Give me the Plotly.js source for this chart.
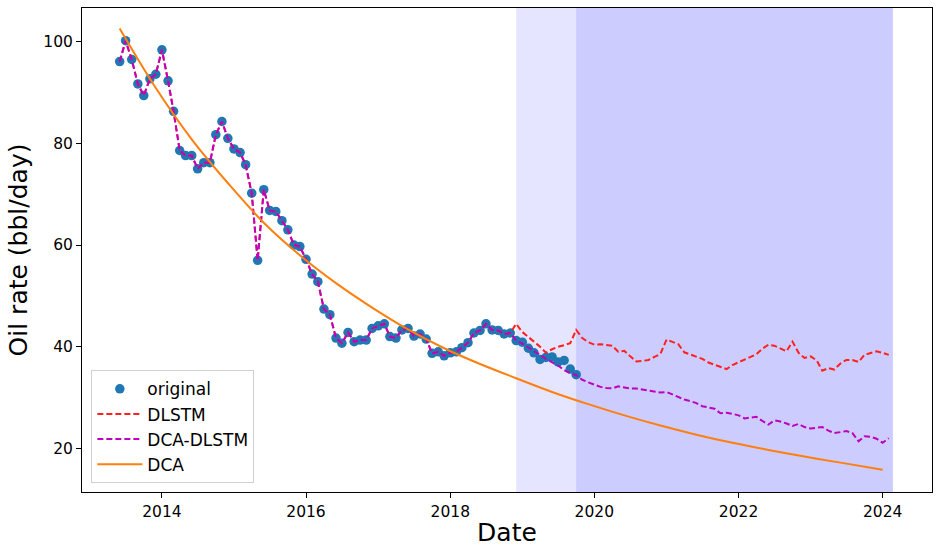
<!DOCTYPE html>
<html><head><meta charset="utf-8">
<script src="https://cdn.plot.ly/plotly-3.0.1.min.js"></script>
<style>html,body{margin:0;padding:0;background:#fff}#chart{width:940px;height:547px}</style>
</head><body><div id="chart"></div>
<script>
// monthly series start: June 2013
const startYear = 2013, startMonth = 6;

// observed oil rate (bbl/day), Jun 2013 .. Oct 2019
const original = [
  96.1, 100.2, 96.5, 91.7, 89.4, 92.7, 93.6,
  98.4, 92.3, 86.3, 78.6, 77.6, 77.6, 75.0, 76.2, 76.2, 81.7, 84.3, 81.0,
  78.9, 78.2, 75.8, 70.2, 57.0, 70.9, 66.8, 66.6, 64.8, 63.0, 60.0, 59.7,
  57.2, 54.3, 52.8, 47.4, 46.3, 41.7, 40.7, 42.8, 41.0, 41.3, 41.3, 43.6,
  44.1, 44.5, 42.0, 41.7, 43.3, 43.6, 42.1, 42.5, 41.5, 38.7, 39.0, 38.2,
  38.8, 39.0, 39.8, 40.8, 42.7, 43.2, 44.5, 43.3, 43.2, 42.5, 42.7, 41.2,
  40.9, 39.7, 38.8, 37.5, 37.9, 38.0, 37.0, 37.3, 35.6, 34.5
];

// forecasts start Dec 2018 (index 66 of the monthly sequence) and run to Feb 2024
const forecastStartIndex = 66;
const dlstmForecast = [
  44.5, 42.9, 41.8, 41.0, 40.0, 38.8, 39.5, 40.0, 40.3, 40.7,
  43.3, 41.7, 40.9,
  40.4, 40.5, 40.4, 40.2, 39.0, 39.2, 38.1, 37.1, 37.2, 37.4, 38.0, 38.6,
  41.4, 41.0, 40.5, 38.9, 38.5, 38.1, 37.6, 36.9, 36.5, 36.1, 35.6, 36.4,
  36.9, 37.5, 38.0, 38.5, 39.6, 40.4, 40.2, 39.6, 39.1, 41.0, 38.8, 37.8,
  38.1, 37.3, 35.3, 35.8, 35.5, 36.7, 37.4, 37.4, 37.0, 38.4, 38.7, 39.1,
  38.8, 38.4
];
const dcaDlstmForecast = [
  41.2, 40.6, 39.9, 39.2, 38.4, 37.6, 37.0, 36.3, 35.4, 34.8,
  34.4, 33.5, 33.0,
  32.6, 32.1, 31.9, 31.8, 32.2, 32.0, 31.8, 31.8, 31.6, 31.3, 31.1, 31.0,
  31.1, 30.6, 30.1, 29.6, 29.3, 28.9, 28.3, 28.1, 27.8, 26.9, 27.0, 26.8,
  26.5, 25.9, 26.1, 26.2, 25.4, 24.7, 25.5, 25.3, 24.9, 24.4, 24.8, 24.2,
  23.9, 24.0, 24.2, 23.5, 23.0, 23.2, 23.4, 23.0, 21.4, 22.4, 22.3, 21.9,
  21.1, 22.0
];

// decline-curve (DCA) values
const dcaDates = ['2013-06-01','2013-12-01','2014-06-01','2014-12-01','2015-06-01','2015-12-01',
  '2016-06-01','2016-12-01','2017-06-01','2017-12-01','2018-06-01','2018-12-01','2019-06-01',
  '2019-12-01','2020-06-01','2020-12-01','2021-06-01','2021-12-01','2022-06-01','2022-12-01',
  '2023-06-01','2024-01-01'];
const dcaValues = [102.6, 90.9, 80.8, 72.2, 64.4, 58.0, 52.5, 47.7, 43.4, 39.7, 36.6, 33.8,
  31.1, 28.7, 26.5, 24.5, 22.7, 21.1, 19.7, 18.4, 17.2, 15.8];

// shaded periods
const testSpan = ['2018-12-01', '2019-10-01'];
const forecastSpan = ['2019-10-01', '2024-02-22'];

const xTickStart = '2014-01-01';

function monthDate(i) {
  const m = startMonth - 1 + i;
  const y = startYear + Math.floor(m / 12);
  const mm = (m % 12) + 1;
  return y + '-' + String(mm).padStart(2, '0') + '-01';
}

const dlstm = original.slice(0, forecastStartIndex).concat(dlstmForecast);
const dcaDlstm = original.slice(0, forecastStartIndex).concat(dcaDlstmForecast);
const origDates = original.map((_, i) => monthDate(i));
const modelDates = dlstm.map((_, i) => monthDate(i));

const traces = [
  {x: origDates, y: original, name: 'original', type: 'scatter', mode: 'markers',
   marker: {color: '#1f77b4', size: 9.5}},
  {x: modelDates, y: dlstm, name: 'DLSTM', type: 'scatter', mode: 'lines',
   line: {color: '#ff2020', width: 2, dash: '6px,3px'}},
  {x: modelDates, y: dcaDlstm, name: 'DCA-DLSTM', type: 'scatter', mode: 'lines',
   line: {color: '#bf00bf', width: 2, dash: '6px,3px'}},
  {x: dcaDates, y: dcaValues, name: 'DCA', type: 'scatter', mode: 'lines',
   line: {color: '#ff7f0e', width: 2, shape: 'spline'}}
];

const font = 'DejaVu Sans, sans-serif';
const layout = {
  width: 940, height: 547,
  margin: {l: 82, r: 8, t: 8, b: 55},
  paper_bgcolor: '#fff', plot_bgcolor: '#fff',
  font: {family: font, color: '#000'},
  showlegend: true,
  legend: {x: 0.011, y: 0.018, xanchor: 'left', yanchor: 'bottom',
    bgcolor: 'rgba(255,255,255,0.8)', bordercolor: '#d0d0d0', borderwidth: 1,
    itemwidth: 45,
    font: {family: font, size: 17, color: '#000'}},
  xaxis: {type: 'date', range: ['2012-11-22', '2024-09-07'],
    tick0: xTickStart, dtick: 'M24', tickformat: '%Y',
    showgrid: false, zeroline: false, showline: true, linecolor: '#000', linewidth: 1, mirror: true,
    ticks: 'outside', ticklen: 5, tickcolor: '#000', tickfont: {family: font, size: 15.5, color: '#000'},
    title: {text: 'Date', font: {family: font, size: 25, color: '#000'}, standoff: 4},
    automargin: false},
  yaxis: {range: [11.42, 106.63], tick0: 0, dtick: 20,
    showgrid: false, zeroline: false, showline: true, linecolor: '#000', linewidth: 1, mirror: true,
    ticks: 'outside', ticklen: 5, tickcolor: '#000', tickfont: {family: font, size: 15.5, color: '#000'},
    title: {text: 'Oil rate (bbl/day)', font: {family: font, size: 25, color: '#000'}, standoff: 8},
    automargin: false},
  shapes: [
    {type: 'rect', xref: 'x', yref: 'paper', x0: testSpan[0], x1: testSpan[1], y0: 0, y1: 1,
     fillcolor: 'rgba(0,0,255,0.1)', line: {width: 0}, layer: 'below'},
    {type: 'rect', xref: 'x', yref: 'paper', x0: forecastSpan[0], x1: forecastSpan[1], y0: 0, y1: 1,
     fillcolor: 'rgba(0,0,255,0.2)', line: {width: 0}, layer: 'below'}
  ]
};

Plotly.newPlot('chart', traces, layout, {displayModeBar: false, staticPlot: true});
</script>
</body></html>
